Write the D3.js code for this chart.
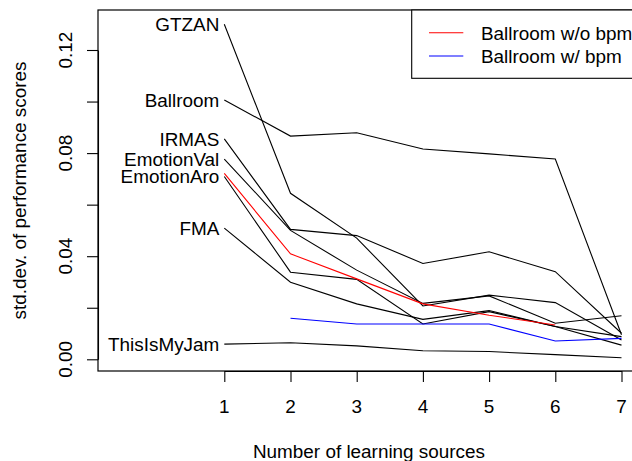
<!DOCTYPE html>
<html>
<head>
<meta charset="utf-8">
<script src="https://cdn.jsdelivr.net/npm/d3@7"></script>
<style>
  html, body { margin: 0; padding: 0; background: #fff; overflow: hidden; }
  svg { display: block; }
  text { font-family: "Liberation Sans", Arial, Helvetica, sans-serif; fill: #000; }
</style>
</head>
<body>
<svg id="chart" width="632" height="461"></svg>
<script>
// ---- data ----
const sources = [1, 2, 3, 4, 5, 6, 7];
const datasetNames = ["GTZAN", "Ballroom", "IRMAS", "EmotionVal", "EmotionAro", "FMA", "ThisIsMyJam"];
const gtzan       = [0.1300, 0.0644, 0.0470, 0.0207, 0.0249, 0.0220, 0.0075];
const ballroom    = [0.1006, 0.0866, 0.0879, 0.0816, 0.0797, 0.0777, 0.0095];
const irmas       = [0.0855, 0.0504, 0.0480, 0.0372, 0.0417, 0.0340, 0.0101];
const emotionVal  = [0.0777, 0.0500, 0.0346, 0.0217, 0.0246, 0.0140, 0.0169];
const emotionAro  = [0.0709, 0.0338, 0.0310, 0.0137, 0.0185, 0.0127, 0.0088];
const fma         = [0.0509, 0.0299, 0.0215, 0.0155, 0.0189, 0.0127, 0.0055];
const thisIsMyJam = [0.0059, 0.0064, 0.0052, 0.0033, 0.0030, 0.0018, 0.0006];
const ballroomNoBpm = [0.0721, 0.0409, 0.0312, 0.0215, 0.0171, 0.0133, null];
const ballroomBpm   = [null, 0.0159, 0.0137, 0.0137, 0.0137, 0.0071, 0.0081];
const legendLabels = ["Ballroom w/o bpm", "Ballroom w/ bpm"];
const legendColors = ["#ff0000", "#0000ff"];
const yTicks = [0, 0.02, 0.04, 0.06, 0.08, 0.10, 0.12];
const yTickLabels = ["0.00", "", "0.04", "", "0.08", "", "0.12"];
const xLabel = "Number of learning sources";
const yLabel = "std.dev. of performance scores";

const blackSeries = [gtzan, ballroom, irmas, emotionVal, emotionAro, fma, thisIsMyJam];

// ---- layout ----
const FS = 18.9;
const box = { left: 98, right: 640, top: 10, bottom: 371 };
const svg = d3.select("#chart");

const x = d3.scaleLinear().domain([1, 7]).range([224.3, 621.5]);
const y = d3.scaleLinear().domain([0, 0.12]).range([359.3, 50.0]);

const line = d3.line()
  .defined(d => d[1] != null)
  .x(d => x(d[0]))
  .y(d => y(d[1]));

const toPts = arr => sources.map((s, i) => [s, arr[i]]);

// plot box
svg.append("rect")
  .attr("x", box.left).attr("y", box.top)
  .attr("width", box.right - box.left).attr("height", box.bottom - box.top)
  .attr("fill", "none").attr("stroke", "#000").attr("stroke-width", 1.2);

// black series
blackSeries.forEach(arr => {
  svg.append("path")
    .attr("d", line(toPts(arr)))
    .attr("fill", "none").attr("stroke", "#000").attr("stroke-width", 1.1);
});

// colored series
svg.append("path").attr("d", line(toPts(ballroomNoBpm)))
  .attr("fill", "none").attr("stroke", legendColors[0]).attr("stroke-width", 1.1);
svg.append("path").attr("d", line(toPts(ballroomBpm)))
  .attr("fill", "none").attr("stroke", legendColors[1]).attr("stroke-width", 1.1);

// dataset labels at x = 1
datasetNames.forEach((name, i) => {
  svg.append("text")
    .attr("x", x(1) - 5)
    .attr("y", y(blackSeries[i][0]))
    .attr("dy", "0.36em")
    .attr("text-anchor", "end")
    .attr("font-size", FS)
    .text(name);
});

// y axis
const yAxis = d3.axisLeft(y).tickValues(yTicks).tickSize(11).tickSizeOuter(0).tickFormat("");
const gy = svg.append("g").attr("transform", `translate(${box.left},0)`).call(yAxis);
gy.selectAll("path, line").attr("stroke", "#000").attr("stroke-width", 1.1);
yTicks.forEach((t, i) => {
  if (!yTickLabels[i]) return;
  svg.append("text")
    .attr("transform", `translate(72,${y(t)}) rotate(-90)`)
    .attr("text-anchor", "middle")
    .attr("font-size", FS)
    .text(yTickLabels[i]);
});

// x axis
const xAxis = d3.axisBottom(x).tickValues(sources).tickSize(11).tickSizeOuter(0).tickFormat("");
const gx = svg.append("g").attr("transform", `translate(0,${box.bottom})`).call(xAxis);
gx.selectAll("path, line").attr("stroke", "#000").attr("stroke-width", 1.1);
sources.forEach(s => {
  svg.append("text")
    .attr("x", x(s)).attr("y", 413)
    .attr("text-anchor", "middle")
    .attr("font-size", FS)
    .text(d3.format("d")(s));
});

// axis titles
svg.append("text")
  .attr("x", (box.left + box.right) / 2).attr("y", 457.5)
  .attr("text-anchor", "middle").attr("font-size", FS)
  .text(xLabel);
svg.append("text")
  .attr("transform", `translate(26,${(box.top + box.bottom) / 2}) rotate(-90)`)
  .attr("text-anchor", "middle").attr("font-size", FS)
  .text(yLabel);

// legend
const lg = svg.append("g");
lg.append("rect")
  .attr("x", 411.7).attr("y", box.top)
  .attr("width", 240).attr("height", 78.3 - box.top)
  .attr("fill", "#fff").attr("stroke", "#000").attr("stroke-width", 1.1);
legendLabels.forEach((lab, i) => {
  const ly = 32.7 + i * 23.3;
  lg.append("line")
    .attr("x1", 429).attr("x2", 463.3).attr("y1", ly).attr("y2", ly)
    .attr("stroke", legendColors[i]).attr("stroke-width", 1.1);
  lg.append("text")
    .attr("x", 481).attr("y", ly).attr("dy", "0.36em")
    .attr("font-size", FS)
    .text(lab);
});
</script>
</body>
</html>
